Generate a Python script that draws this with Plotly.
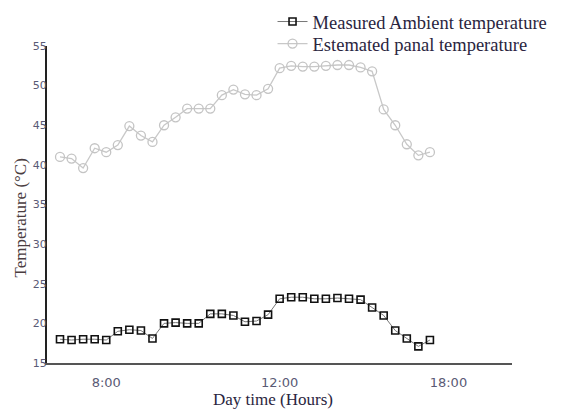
import plotly.graph_objects as go

# sample index along the day (33 readings)
sample_idx = list(range(33))

ambient_temp = [18.0, 17.9, 18.0, 18.0, 17.9, 19.0, 19.2, 19.1, 18.1, 20.0, 20.1, 20.0, 20.0,
                21.2, 21.2, 21.0, 20.2, 20.3, 21.1, 23.1, 23.3, 23.3, 23.1, 23.1, 23.2, 23.1,
                23.0, 22.0, 21.0, 19.1, 18.1, 17.1, 17.9]

panel_temp = [41.0, 40.8, 39.6, 42.1, 41.6, 42.5, 44.9, 43.7, 42.9, 45.0, 46.0, 47.1, 47.1,
              47.1, 48.8, 49.5, 48.9, 48.8, 49.6, 52.2, 52.5, 52.4, 52.4, 52.5, 52.6, 52.6,
              52.3, 51.8, 47.0, 45.0, 42.6, 41.2, 41.6]

x_tick_pos = [4.0, 19.0, 33.6]
x_tick_text = ["8:00", "12:00", "18:00"]
y_ticks = [15, 20, 25, 30, 35, 40, 45, 50, 55]

W, H = 566, 407  # page has an 8px body margin
legend_font = dict(family="Liberation Serif", size=18.5, color="#2a2540")

fig = go.Figure()
fig.add_trace(go.Scatter(
    x=sample_idx, y=ambient_temp, mode="lines+markers",
    name="Measured Ambient temperature", legend="legend",
    line=dict(color="#777777", width=1),
    marker=dict(symbol="square-open", size=7, color="#111111", line=dict(width=1.6, color="#111111")),
))
fig.add_trace(go.Scatter(
    x=sample_idx, y=panel_temp, mode="lines+markers",
    name="Estemated panal temperature", legend="legend2",
    line=dict(color="#c8c8c8", width=1.3),
    marker=dict(symbol="circle-open", size=9, color="#c4c4c4", line=dict(width=1.3, color="#c4c4c4")),
))

fig.update_layout(
    width=W, height=H,
    margin=dict(l=39, r=62, t=38, b=52, autoexpand=False),
    paper_bgcolor="white", plot_bgcolor="white",
    showlegend=True,
    legend=dict(x=0.485, y=1 - 14 / H, xanchor="left", yanchor="middle", yref="container",
                font=legend_font, bgcolor="rgba(0,0,0,0)", itemwidth=30),
    legend2=dict(x=0.485, y=1 - 36 / H, xanchor="left", yanchor="middle", yref="container",
                 font=legend_font, bgcolor="rgba(0,0,0,0)", itemwidth=30),
    xaxis=dict(range=[-1.125, 39.1], showgrid=False, zeroline=False, automargin=False,
               showline=True, linecolor="#555555", linewidth=2,
               tickvals=x_tick_pos, ticktext=x_tick_text,
               ticks="outside", ticklen=6, tickcolor="rgba(0,0,0,0)",
               tickfont=dict(family="DejaVu Sans", size=13, color="#5a5a75")),
    yaxis=dict(range=[15, 55], showgrid=False, zeroline=False, automargin=False,
               showline=True, linecolor="#222222", linewidth=2,
               tickvals=y_ticks,
               ticks="", ticklabelstandoff=-4,
               tickfont=dict(family="DejaVu Sans", size=11, color="#5a5a75")),
    annotations=[
        dict(text="Day time (Hours)", xref="paper", yref="paper",
             x=(265 - 39) / 465, y=-(391 - 355) / 317, xanchor="center", yanchor="middle",
             showarrow=False, font=dict(family="Liberation Serif", size=17, color="#2a2540")),
        dict(text="Temperature (°C)", xref="paper", yref="paper", textangle=-90,
             x=(11.5 - 39) / 465, y=(355 - 210) / 317, xanchor="center", yanchor="middle",
             showarrow=False, font=dict(family="Liberation Serif", size=17, color="#4a3c40")),
    ],
)

fig.write_html("out.html")
